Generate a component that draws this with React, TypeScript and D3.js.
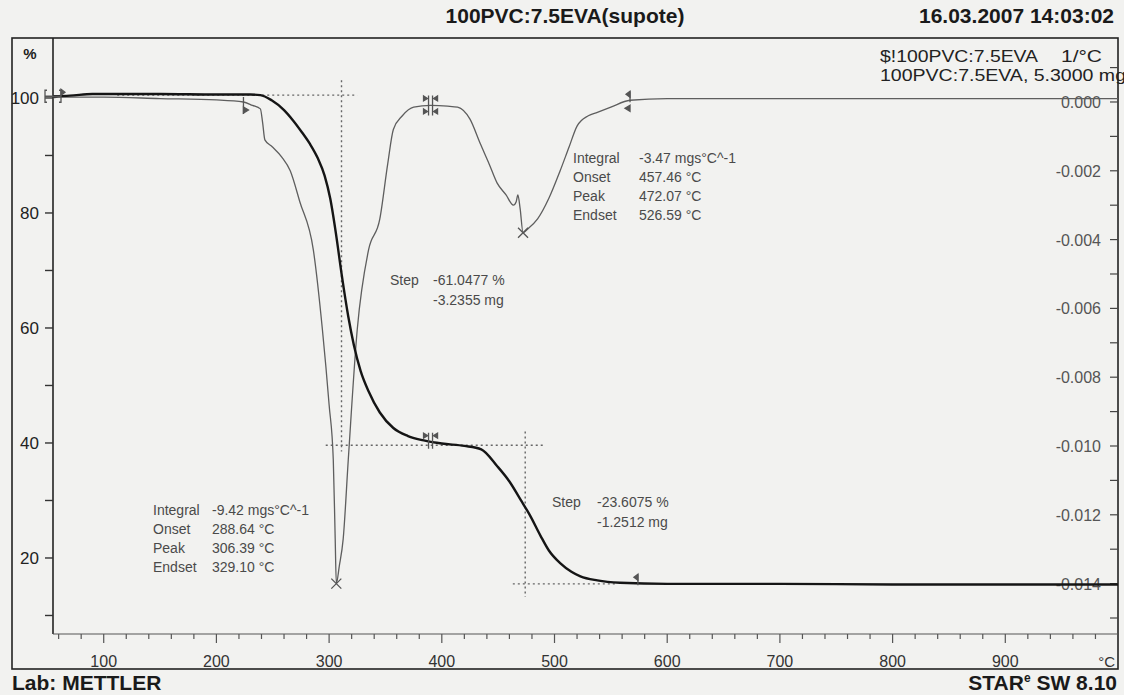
import { useEffect, useRef } from "react";
import * as d3 from "d3";

const W = 1124;
const H = 695;

// TG curve: temperature (°C) and remaining mass (%), left axis
const tgTemp = [55, 70, 90, 150, 200, 230, 239, 249, 260, 268, 276, 283, 290, 296, 301, 306, 311, 317, 322, 328, 335, 345, 357, 370, 385, 400, 420, 435, 449, 460, 470, 478, 487.5, 495, 505, 515, 523, 538, 558, 600, 700, 800, 900, 1000];
const tgMass = [100.3, 100.4, 100.7, 100.7, 100.6, 100.6, 100.5, 99.6, 97.9, 96.1, 94.0, 92.0, 89.5, 86.5, 82.5, 76.5, 69.5, 62.0, 57.0, 52.5, 49.0, 45.3, 42.6, 41.2, 40.4, 39.9, 39.5, 38.9, 36.0, 33.3, 30.1, 27.5, 23.9, 21.3, 19.1, 17.6, 16.8, 16.1, 15.7, 15.5, 15.5, 15.4, 15.4, 15.4];

// DTG curve: temperature (°C) and rate (1/°C), right axis
const dtgTemp = [55, 60, 100, 150, 200, 224, 232, 239, 241, 243, 249.5, 258, 265.5, 274, 286, 294, 300, 303.7, 305.4, 306.4, 309, 312.5, 317, 325, 335, 345, 352, 357, 365, 375, 390, 405, 414, 425, 434, 442, 449, 457, 463.5, 466, 467.5, 469.5, 472.07, 476, 485, 495, 505, 513, 520, 530, 538, 550, 567, 600, 700, 800, 900, 1000];
const dtgRate = [0.00012, 0.00014, 0.00014, 0.0001, 0.00006, 0.0, -0.0001, -0.0002, -0.0006, -0.0011, -0.0013, -0.0016, -0.002, -0.0029, -0.0043, -0.0066, -0.0088, -0.0104, -0.0127, -0.014, -0.0135, -0.0127, -0.0104, -0.0066, -0.0043, -0.0034, -0.0018, -0.0008, -0.0004, -0.00015, -0.0001, -0.00012, -0.00015, -0.0005, -0.0012, -0.0018, -0.00235, -0.0027, -0.003, -0.0029, -0.0027, -0.0031, -0.0038, -0.0037, -0.0034, -0.0028, -0.002, -0.0013, -0.0007, -0.0004, -0.0003, -0.00015, 0.00005, 0.0001, 0.0001, 0.0001, 0.0001, 0.0001];

const xTickLabels = [100, 200, 300, 400, 500, 600, 700, 800, 900];
const leftTickLabels = [20, 40, 60, 80, 100];
const leftMinor = [10, 30, 50, 70, 90];
const rightTickLabels = [0, -0.002, -0.004, -0.006, -0.008, -0.01, -0.012, -0.014];
const rightMinor = [0.001, -0.001, -0.003, -0.005, -0.007, -0.009, -0.011, -0.013, -0.015];

// evaluation results
const dtgPeaks = [306.39, 472.07];
const dtgPeakRates = [-0.014, -0.0038];
const integral1 = [["Integral", "-9.42 mgs°C^-1"], ["Onset", "288.64 °C"], ["Peak", "306.39 °C"], ["Endset", "329.10 °C"]];
const integral2 = [["Integral", "-3.47 mgs°C^-1"], ["Onset", "457.46 °C"], ["Peak", "472.07 °C"], ["Endset", "526.59 °C"]];
const step1 = ["-61.0477 %", "-3.2355 mg"];
const step2 = ["-23.6075 %", "-1.2512 mg"];

const FONT = "'Liberation Sans', Arial, sans-serif";

export default function App() {
  const ref = useRef<SVGSVGElement>(null);

  useEffect(() => {
    if (!ref.current) return;
    const svg = d3.select(ref.current);
    svg.selectAll("*").remove();

    const left = 53, right = 1118, top = 38, bottom = 634;
    const x = d3.scaleLinear().domain([55, 1000]).range([left, right]);
    const yL = d3.scaleLinear().domain([6.78, 110.43]).range([bottom, top]);
    const yR = d3.scaleLinear().domain([-0.015465, 0.00186]).range([bottom, top]);

    svg.append("rect").attr("width", W).attr("height", H).attr("fill", "#f2f2f0");

    // header
    svg.append("text").attr("x", 565).attr("y", 23).attr("text-anchor", "middle")
      .attr("font-family", FONT).attr("font-weight", "bold").attr("font-size", 21).attr("fill", "#1a1a1a")
      .text("100PVC:7.5EVA(supote)");
    svg.append("text").attr("x", 1114).attr("y", 23).attr("text-anchor", "end")
      .attr("font-family", FONT).attr("font-weight", "bold").attr("font-size", 21).attr("fill", "#1a1a1a")
      .text("16.03.2007 14:03:02");

    // frame
    svg.append("rect").attr("x", 12).attr("y", top).attr("width", right - 12).attr("height", 669 - top)
      .attr("fill", "none").attr("stroke", "#222").attr("stroke-width", 1.6);
    svg.append("line").attr("x1", left).attr("x2", left).attr("y1", top).attr("y2", bottom)
      .attr("stroke", "#222").attr("stroke-width", 1.6);
    svg.append("line").attr("x1", left).attr("x2", right).attr("y1", bottom).attr("y2", bottom)
      .attr("stroke", "#555").attr("stroke-width", 1.2);

    // x axis ticks
    const xMinor = d3.range(60, 1000, 20).filter((t) => t % 100 !== 0);
    const gx = svg.append("g").attr("stroke", "#555").attr("stroke-width", 1.2);
    gx.selectAll("line.mn").data(xMinor).join("line").attr("class", "mn")
      .attr("x1", (d) => x(d)).attr("x2", (d) => x(d)).attr("y1", bottom).attr("y2", bottom + 5);
    gx.selectAll("line.mj").data(xTickLabels).join("line").attr("class", "mj")
      .attr("x1", (d) => x(d)).attr("x2", (d) => x(d)).attr("y1", bottom).attr("y2", bottom + 9);
    svg.append("g").attr("font-family", FONT).attr("font-size", 16).attr("fill", "#333").attr("text-anchor", "middle")
      .selectAll("text").data(xTickLabels).join("text")
      .attr("x", (d) => x(d)).attr("y", 667).text((d) => d);
    svg.append("text").attr("x", 1115).attr("y", 667).attr("text-anchor", "end")
      .attr("font-family", FONT).attr("font-size", 15).attr("fill", "#333").text("°C");

    // left axis
    const gl = svg.append("g").attr("stroke", "#333").attr("stroke-width", 1.4);
    gl.selectAll("line").data([...leftTickLabels, ...leftMinor]).join("line")
      .attr("x1", left - 8).attr("x2", left).attr("y1", (d) => yL(d)).attr("y2", (d) => yL(d));
    svg.append("g").attr("font-family", FONT).attr("font-size", 17).attr("fill", "#222").attr("text-anchor", "end")
      .selectAll("text").data(leftTickLabels).join("text")
      .attr("x", 39).attr("y", (d) => yL(d) + 6).text((d) => d);
    svg.append("text").attr("x", 30).attr("y", 59).attr("text-anchor", "middle")
      .attr("font-family", FONT).attr("font-weight", "bold").attr("font-size", 15).attr("fill", "#222").text("%");

    // right axis
    const gr = svg.append("g").attr("stroke", "#444").attr("stroke-width", 1.2);
    gr.selectAll("line").data([...rightTickLabels, ...rightMinor]).join("line")
      .attr("x1", right - 8).attr("x2", right).attr("y1", (d) => yR(d)).attr("y2", (d) => yR(d));
    svg.append("g").attr("font-family", FONT).attr("font-size", 16).attr("fill", "#555").attr("text-anchor", "end")
      .selectAll("text").data(rightTickLabels).join("text")
      .attr("x", 1101).attr("y", (d) => yR(d) + 6).text((d) => d3.format(".3f")(d).replace("−", "-"));

    // legend (wide bitmap-like glyphs)
    const lg = svg.append("g").attr("font-family", FONT).attr("font-size", 16.5).attr("fill", "#222");
    lg.append("text").attr("x", 880).attr("y", 62).attr("textLength", 158).attr("lengthAdjust", "spacingAndGlyphs")
      .text("$!100PVC:7.5EVA");
    lg.append("text").attr("x", 1061).attr("y", 62).attr("textLength", 41).attr("lengthAdjust", "spacingAndGlyphs")
      .text("1/°C");
    lg.append("text").attr("x", 880).attr("y", 81).attr("textLength", 246).attr("lengthAdjust", "spacingAndGlyphs")
      .text("100PVC:7.5EVA, 5.3000 mg");

    // step construction lines
    const dot = svg.append("g").attr("stroke", "#666").attr("stroke-width", 1.4).attr("stroke-dasharray", "2,3");
    const hLines = [[100.5, 112, 325], [39.6, 297, 490], [15.5, 463, 556]];
    const vLines = [[311, 103.1, 38.5], [474, 42, 13.2]];
    dot.selectAll("line.h").data(hLines).join("line").attr("class", "h")
      .attr("x1", (d) => x(d[1])).attr("x2", (d) => x(d[2])).attr("y1", (d) => yL(d[0])).attr("y2", (d) => yL(d[0]));
    dot.selectAll("line.v").data(vLines).join("line").attr("class", "v")
      .attr("x1", (d) => x(d[0])).attr("x2", (d) => x(d[0])).attr("y1", (d) => yL(d[1])).attr("y2", (d) => yL(d[2]));

    // DTG curve
    const dtgData = dtgTemp.map((t, i) => [t, dtgRate[i]] as [number, number]);
    svg.append("path").datum(dtgData)
      .attr("fill", "none").attr("stroke", "#5e5e5e").attr("stroke-width", 1.3)
      .attr("d", d3.line<[number, number]>().x((d) => x(d[0])).y((d) => yR(d[1])).curve(d3.curveMonotoneX));

    // TG curve
    const tgData = tgTemp.map((t, i) => [t, tgMass[i]] as [number, number]);
    svg.append("path").datum(tgData)
      .attr("fill", "none").attr("stroke", "#151515").attr("stroke-width", 2.4)
      .attr("d", d3.line<[number, number]>().x((d) => x(d[0])).y((d) => yL(d[1])).curve(d3.curveMonotoneX));

    const interp = (xs: number[], ys: number[], t: number) => {
      const i = d3.bisectLeft(xs, t);
      if (i <= 0) return ys[0];
      const t0 = xs[i - 1], t1 = xs[i];
      return ys[i - 1] + (ys[i] - ys[i - 1]) * (t - t0) / (t1 - t0);
    };
    const dtgAt = (t: number) => interp(dtgTemp, dtgRate, t);
    const tgAt = (t: number) => interp(tgTemp, tgMass, t);

    const mk = svg.append("g").attr("stroke", "#555").attr("fill", "#555").attr("stroke-width", 1.3);
    // peak crosses
    dtgPeaks.forEach((t, i) => {
      const cx = x(t), cy = yR(dtgPeakRates[i]);
      mk.append("path").attr("d", `M${cx - 5},${cy - 5}L${cx + 5},${cy + 5}M${cx - 5},${cy + 5}L${cx + 5},${cy - 5}`).attr("fill", "none");
    });
    // integration limit markers on DTG
    const m1x = x(224), m1y = yR(dtgAt(224));
    mk.append("path").attr("d", `M${m1x},${m1y - 5}V${m1y + 12}`).attr("fill", "none");
    mk.append("path").attr("d", `M${m1x},${m1y + 5}l5,3l-5,3z`);
    const m2x = x(390), m2y = yR(dtgAt(390));
    mk.append("path").attr("d", `M${m2x - 2},${m2y - 10}V${m2y + 10}M${m2x + 2},${m2y - 10}V${m2y + 10}`).attr("fill", "none");
    mk.append("path").attr("d", `M${m2x - 3},${m2y - 7}l-4,-2.5v5z M${m2x + 3},${m2y - 7}l4,-2.5v5z M${m2x - 3},${m2y + 6}l-4,-2.5v5z M${m2x + 3},${m2y + 6}l4,-2.5v5z`);
    const m3x = x(567), m3y = yR(dtgAt(567));
    mk.append("path").attr("d", `M${m3x},${m3y - 9}V${m3y + 2}`).attr("fill", "none");
    mk.append("path").attr("d", `M${m3x},${m3y - 9}l-4,3l4,3z M${m3x},${m3y + 5}l-5,3l5,3z`);
    // TG step markers
    const t1x = x(390), t1y = yL(tgAt(390));
    mk.append("path").attr("d", `M${t1x - 2},${t1y - 9}V${t1y + 7}M${t1x + 2},${t1y - 9}V${t1y + 7}`).attr("fill", "none");
    mk.append("path").attr("d", `M${t1x - 3},${t1y - 6}l-4,-2.5v5z M${t1x + 3},${t1y - 6}l4,-2.5v5z`);
    const t2x = x(574), t2y = yL(tgAt(574));
    mk.append("path").attr("d", `M${t2x},${t2y - 9}V${t2y + 2}`).attr("fill", "none");
    mk.append("path").attr("d", `M${t2x},${t2y - 9}l-4,3l4,3z`);
    // start markers at left edge
    const sy = yL(100.3);
    mk.append("path").attr("d", `M${left - 6},${sy - 6}h-2v12h2M${left - 8},${sy}h16M${left + 6},${sy - 6}h2v12h-2`).attr("fill", "none");
    mk.append("path").attr("d", `M${left + 8},${sy - 7}l4,3l-4,3z`);

    // annotation texts
    const note = svg.append("g").attr("font-family", FONT).attr("font-size", 14).attr("fill", "#4a4a4a");
    const block = (rows: string[][], x0: number, x1: number, y0: number) => {
      rows.forEach((r, i) => {
        note.append("text").attr("x", x0).attr("y", y0 + i * 19).text(r[0]);
        note.append("text").attr("x", x1).attr("y", y0 + i * 19).text(r[1]);
      });
    };
    block(integral1, 153, 212, 515);
    block(integral2, 573, 639, 163);
    note.append("text").attr("x", 390).attr("y", 285).text("Step");
    note.append("text").attr("x", 433).attr("y", 285).text(step1[0]);
    note.append("text").attr("x", 433).attr("y", 305).text(step1[1]);
    note.append("text").attr("x", 552).attr("y", 507).text("Step");
    note.append("text").attr("x", 597).attr("y", 507).text(step2[0]);
    note.append("text").attr("x", 597).attr("y", 527).text(step2[1]);

    // footer
    svg.append("text").attr("x", 12).attr("y", 690).attr("font-family", FONT).attr("font-weight", "bold")
      .attr("font-size", 21).attr("fill", "#1a1a1a").text("Lab: METTLER");
    const star = svg.append("text").attr("x", 1117).attr("y", 690).attr("text-anchor", "end").attr("font-family", FONT)
      .attr("font-weight", "bold").attr("font-size", 21).attr("fill", "#1a1a1a");
    star.append("tspan").text("STAR");
    star.append("tspan").attr("font-size", 12).attr("dy", -8).text("e");
    star.append("tspan").attr("dy", 8).text(" SW 8.10");
  }, []);

  return (
    <svg
      ref={ref}
      width={W}
      height={H}
      style={{ position: "absolute", left: 0, top: 0, display: "block" }}
    />
  );
}
